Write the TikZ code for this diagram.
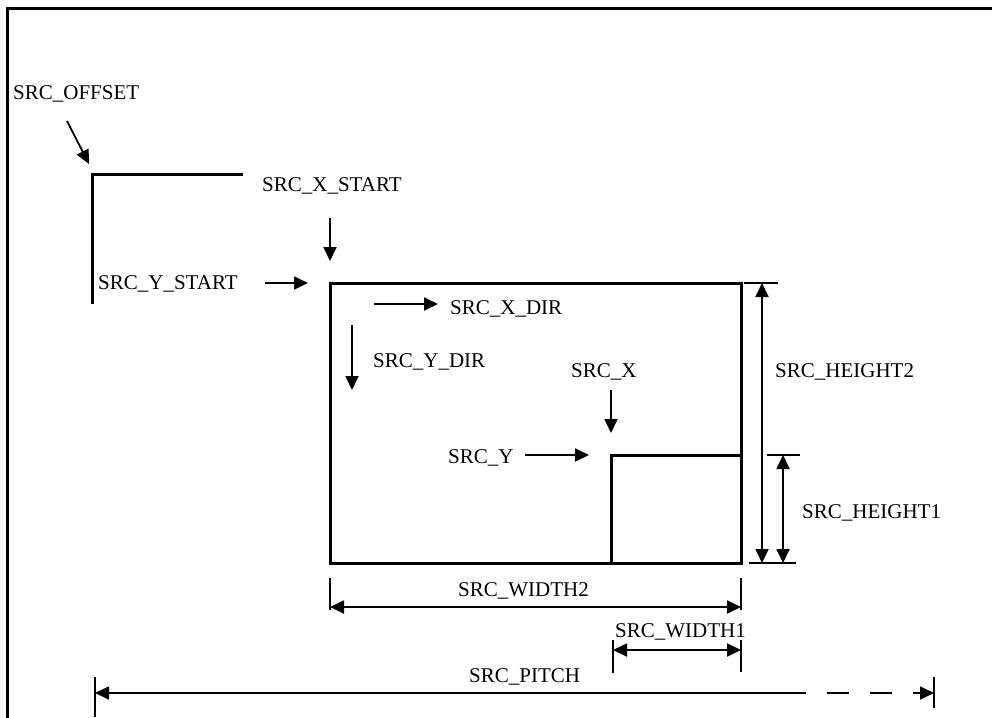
\documentclass[tikz,border=0pt]{standalone}
\usepackage{fontspec}
\setmainfont{Liberation Serif}
\usetikzlibrary{arrows.meta}
\begin{document}
\begin{tikzpicture}[x=1pt,y=-1pt,
  lbl/.style={anchor=base west,inner sep=0pt,font=\fontsize{21}{25}\selectfont},
  thick2/.style={line width=3pt},
  arr/.style={line width=1.8pt,-{Triangle[length=14pt,width=13pt]}},
  darr/.style={line width=1.8pt,{Triangle[length=14pt,width=13pt]}-{Triangle[length=14pt,width=13pt]}},
  tick/.style={line width=1.5pt}]
\useasboundingbox (0,0) rectangle (992,717);
% outer frame (top and left)
\draw[thick2] (7,730) -- (7,9) -- (1000,9);
% offset corner
\draw[thick2] (92,304) -- (92,174) -- (243,174);
% labels
\node[lbl] (off) at (13,99) {SRC\_OFFSET};
\node[lbl] (xs) at (262,191) {SRC\_X\_START};
\node[lbl] (ys) at (98,289) {SRC\_Y\_START};
\node[lbl] (xd) at (450,314) {SRC\_X\_DIR};
\node[lbl] (yd) at (373,367) {SRC\_Y\_DIR};
\node[lbl] (sx) at (571,377) {SRC\_X};
\node[lbl] (sy) at (448,463) {SRC\_Y};
\node[lbl] (h2) at (775,377) {SRC\_HEIGHT2};
\node[lbl] (h1) at (802,518) {SRC\_HEIGHT1};
\node[lbl] (w2) at (458,596) {SRC\_WIDTH2};
\node[lbl] (w1) at (615,637) {SRC\_WIDTH1};
\node[lbl] (pt) at (469,682) {SRC\_PITCH};
% rectangles
\draw[thick2] (330,283) rectangle (741,563);
\draw[thick2] (611,563) -- (611,455) -- (741,455);
% arrows
\coordinate (a1) at (67,121); \coordinate (a2) at (89,164);
\draw[arr] (a1) -- (a2);
\coordinate (b1) at (330,218); \coordinate (b2) at (330,261);
\draw[arr] (b1) -- (b2);
\coordinate (c1) at (265,283); \coordinate (c2) at (308,283);
\draw[arr] (c1) -- (c2);
\coordinate (d1) at (374,304); \coordinate (d2) at (438,304);
\draw[arr] (d1) -- (d2);
\coordinate (e1) at (352,325); \coordinate (e2) at (352,390);
\draw[arr] (e1) -- (e2);
\coordinate (f1) at (611,390); \coordinate (f2) at (611,433);
\draw[arr] (f1) -- (f2);
\coordinate (g1) at (525,455); \coordinate (g2) at (589,455);
\draw[arr] (g1) -- (g2);
% height dims
\draw[tick] (744,283) -- (778,283);
\draw[tick] (749,563) -- (796,563);
\draw[tick] (767,455) -- (800,455);
\coordinate (h2t) at (762,283); \coordinate (h2b) at (762,563);
\draw[darr] (h2t) -- (h2b);
\coordinate (h1t) at (783,455); \coordinate (h1b) at (783,563);
\draw[darr] (h1t) -- (h1b);
% width dims
\draw[tick] (330,578) -- (330,610);
\draw[tick] (741,578) -- (741,610);
\coordinate (w2l) at (330,607); \coordinate (w2r) at (741,607);
\draw[darr] (w2l) -- (w2r);
\draw[tick] (613,640) -- (613,673);
\draw[tick] (741,640) -- (741,672);
\coordinate (w1l) at (613,650); \coordinate (w1r) at (741,650);
\draw[darr] (w1l) -- (w1r);
% pitch
\draw[tick] (95,677) -- (95,717);
\draw[tick] (934,677) -- (934,708);
\coordinate (pl) at (95,693); \coordinate (pm) at (806,693);
\draw[line width=1.8pt,{Triangle[length=14pt,width=13pt]}-] (pl) -- (pm);
\coordinate (q1) at (827,693); \coordinate (q2) at (849,693);
\coordinate (q3) at (870,693); \coordinate (q4) at (892,693);
\coordinate (q5) at (913,693); \coordinate (pr) at (934,693);
\draw[line width=1.8pt] (q1) -- (q2) (q3) -- (q4);
\draw[arr] (q5) -- (pr);
\end{tikzpicture}
\end{document}
